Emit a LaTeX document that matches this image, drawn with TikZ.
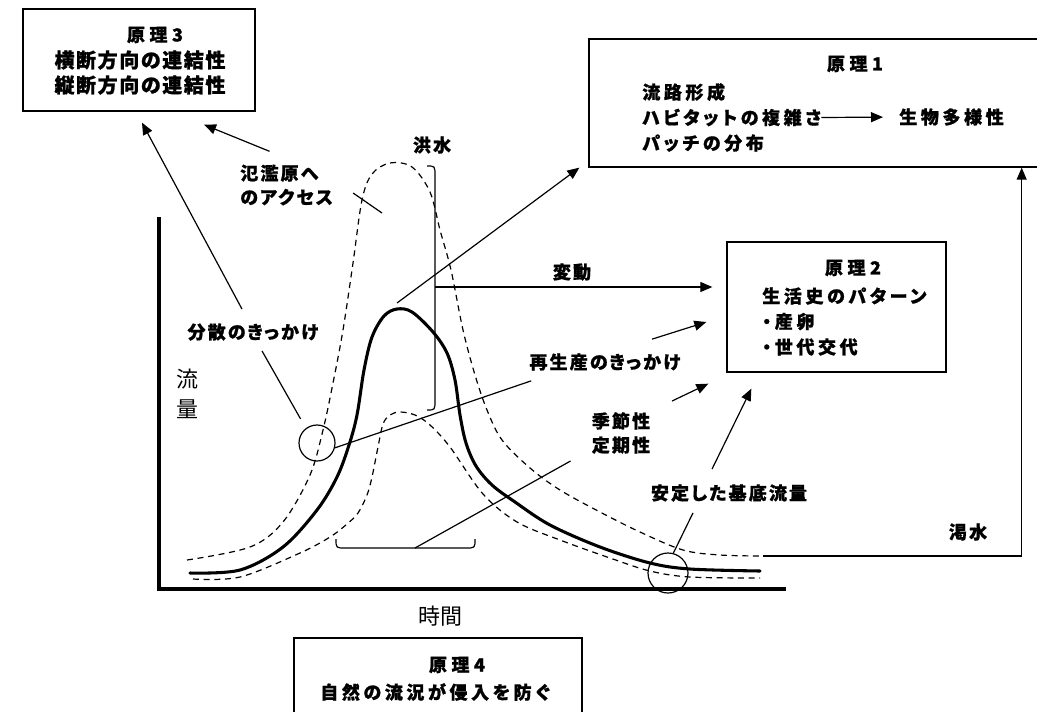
\documentclass[tikz,border=0pt]{standalone}
\usepackage{fontspec}
\usetikzlibrary{arrows.meta}
\newfontfamily\jplbl{Noto Sans CJK JP}[RawFeature={+palt}, LetterSpace=12, BoldFeatures={FakeBold=1}]
\newfontfamily\jpbody{Noto Sans CJK JP}[RawFeature={+palt}, LetterSpace=20, BoldFeatures={FakeBold=1}]
\newfontfamily\jptitle{Noto Sans CJK JP}[RawFeature={+palt}, LetterSpace=25, BoldFeatures={FakeBold=1}]
\newfontfamily\jpwide{Noto Sans CJK JP}[RawFeature={+palt}, LetterSpace=8, BoldFeatures={FakeBold=1}]
\newfontfamily\jpplain{Noto Sans CJK JP}

\begin{document}
\begin{tikzpicture}[
    x=0.75pt, y=-0.75pt,
    >={Triangle[length=9pt, width=7.5pt]},
    box/.style={draw, line width=1pt, rectangle, inner sep=0pt},
    ptitle/.style={inner sep=0pt, font=\jptitle\bfseries\fontsize{13.5}{15}\selectfont},
    pbody/.style={inner sep=0pt, align=left, font=\jpbody\bfseries\fontsize{13.5}{19.1}\selectfont},
    lbl/.style={inner sep=0pt, align=left, font=\jplbl\bfseries\fontsize{13.5}{18}\selectfont},
    axlbl/.style={inner sep=0pt, align=center, font=\jpplain\fontsize{16.5}{23}\selectfont},
    ring/.style={draw, circle, line width=0.9pt, inner sep=0pt},
    thin/.style={line width=0.9pt},
    arr/.style={thin, ->},
    hydro/.style={line width=2.3pt, line cap=round},
    band/.style={line width=0.9pt, dash pattern=on 4.5pt off 3.5pt},
    axis/.style={line width=2.5pt},
]
\useasboundingbox (0,0) rectangle (1037,711);

% principle boxes
\node[box, minimum width=174pt, minimum height=76.5pt] (p3box) at (139,60) {};
\node[ptitle] (p3title) at (155,35) {原理3};
\node[inner sep=0pt, align=center, font=\jpwide\bfseries\fontsize{15}{18.75}\selectfont]
    (p3body) at (140,72.5) {横断方向の連結性\\縦断方向の連結性};

\node[box, minimum width=342pt, minimum height=96pt] (p1box) at (817,103) {};
\node[ptitle] (p1title) at (855,64) {原理1};
\node[pbody, anchor=west] (p1body) at (642,117.5) {流路形成\\ハビタットの複雑さ\\パッチの分布};
\node[pbody, anchor=west] (biodiv) at (899,117) {生物多様性};
\draw[arr, shorten >=12pt] (p1body.east) -- (biodiv.west);

\node[box, minimum width=164.25pt, minimum height=97.5pt] (p2box) at (836.5,307) {};
\node[ptitle] (p2title) at (853,268) {原理2};
\node[pbody, anchor=west] (p2body) at (762,321.5) {生活史のパターン\\・産卵\\・世代交代};

\node[box, minimum width=216pt, minimum height=84pt] (p4box) at (438,694) {};
\node[ptitle] (p4title) at (457,665) {原理4};
\node[pbody] (p4body) at (435,692) {自然の流況が侵入を防ぐ};

% axes
\draw[axis] (159,217) -- (159,589) -- (786,589);
\node[axlbl] (flowlbl) at (187,394) {流\\量};
\node[axlbl] (timelbl) at (440,616) {時間};

% hydrographs
\draw[band] plot[smooth, tension=0.55] coordinates {
    (187,560) (250,547) (283,522) (310,475) (323,430) (333,383) (343,330)
    (353,263) (362,200) (372,174) (390,163) (412,167) (430,192) (440,230)
    (451,270) (463,330) (475,375) (487,410) (502,440) (530,468) (560,490)
    (600,512) (640,532) (683,550) (720,555) (763,556)};
\draw[band] plot[smooth, tension=0.55] coordinates {
    (193,579) (240,577) (300,553) (330,537) (347,524) (358,513) (367,495)
    (372,477) (378,447) (383,424) (390,415) (400,412) (415,415) (430,425)
    (450,447) (483,494) (517,522) (560,540) (610,558) (650,571) (690,577)
    (760,578)};
\draw[hydro] plot[smooth, tension=0.55] coordinates {
    (190,573) (240,570) (283,547) (317,510) (337,477) (349,445) (357,415)
    (364,370) (372,337) (384,316) (397,309) (412,312) (433,332) (447,353)
    (455,380) (460,415) (466,443) (476,466) (492,485) (515,502) (550,525)
    (600,547) (650,563) (690,569) (760,571)};

% braces
\draw[thin] (427,166) .. controls (435,166) .. (435,176) -- (435,400)
    .. controls (435,410) .. (427,410);
\draw[thin] (336,539) .. controls (336,548) .. (345,548) -- (466,548)
    .. controls (475,548) .. (475,539);
\coordinate (floodmid) at (435,287);
\coordinate (seasmid) at (415,548);
\coordinate (peaktop) at (397,303);
\coordinate (floodin) at (382,213);
\coordinate (dryend) at (763,556);

% marks on the curves
\node[ring, minimum size=27pt] (dispcirc) at (317,443) {};
\node[ring, minimum size=30pt] (basecirc) at (668,573) {};

% labels
\node[lbl] (floodlbl) at (432,145) {洪水};
\node[lbl, anchor=west] (access) at (240,185) {氾濫原へ\\のアクセス};
\node[lbl] (disp) at (253,332) {分散のきっかけ};
\node[lbl] (vary) at (572,272) {変動};
\node[lbl] (repro) at (605,362) {再生産のきっかけ};
\node[lbl] (season) at (621,433) {季節性\\定期性};
\node[lbl] (baseflow) at (729,493) {安定した基底流量};
\node[lbl] (drought) at (968,532) {渇水};

% connectors
\draw[arr] ([shift={(-11,-14)}]disp.north) -- ([shift={(3,11)}]p3box.south);
\draw[arr] ([shift={(-17,-13)}]access.north) -- ([shift={(65,13)}]p3box.south);
\draw[thin] ([shift={(20,8)}]access.east) -- (floodin);
\draw[thin, shorten <=8pt] (dispcirc.127) -- ([shift={(9,10)}]disp.south);
\draw[arr] (peaktop) -- ([shift={(-9,0)}]p1box.south west);
\draw[arr, shorten >=10.5pt] (floodmid) -- (floodmid -| p2box.west);
\draw[thin] (dispcirc.-15) -- ([shift={(2,10)}]repro.south west);
\draw[arr] ([shift={(47,-14)}]repro.north) -- ([shift={(-20,15)}]p2box.west);
\draw[thin] (seasmid) -- ([shift={(-21,7)}]season.south west);
\draw[arr] ([shift={(51,-11)}]season.north) -- ([shift={(-18,11)}]p2box.south west);
\draw[thin] (basecirc.75) -- ([shift={(-36,11)}]baseflow.south);
\draw[arr] ([shift={(-17,-15)}]baseflow.north) -- ([shift={(25,16)}]p2box.south west);
\draw[arr] (dryend) -| ([shift={(-24,0)}]p1box.south east);

\end{tikzpicture}
\end{document}
